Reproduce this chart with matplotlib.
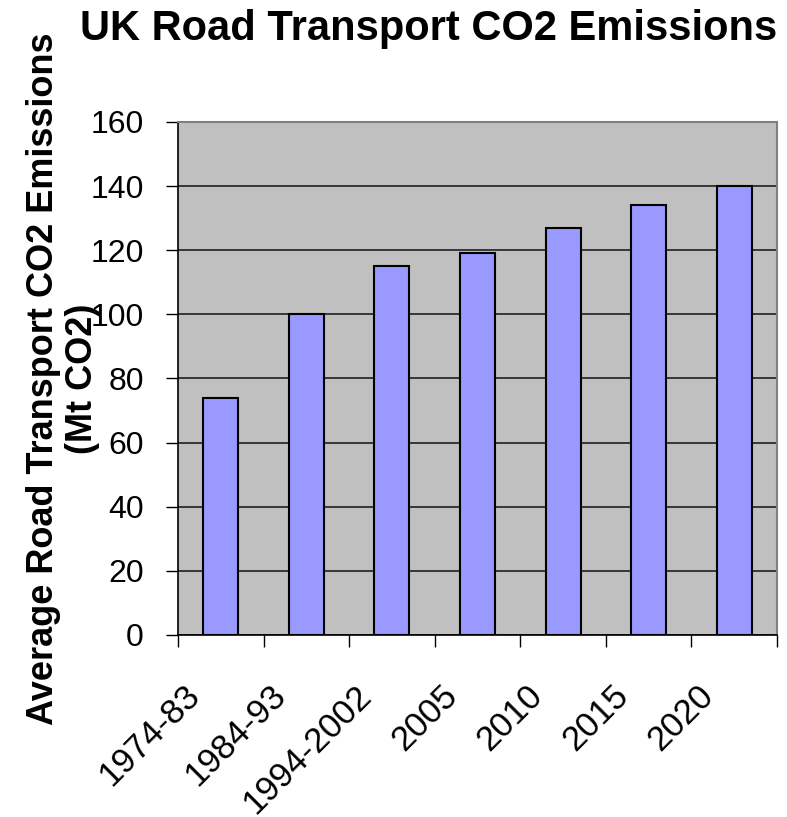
import numpy as np
import matplotlib
matplotlib.use('Agg')
import matplotlib.pyplot as plt

# data
categories = ['1974-83', '1984-93', '1994-2002', '2005', '2010', '2015', '2020']
emissions = [74, 100, 115, 119, 127, 134, 140]
yticks = [0, 20, 40, 60, 80, 100, 120, 140, 160]

plt.rcParams['font.family'] = ['Liberation Sans', 'DejaVu Sans']

fig = plt.figure(figsize=(7.87, 8.17), dpi=100)
ax = fig.add_axes([0.2262, 0.2228, 0.7611, 0.6279])
ax.set_facecolor('#C0C0C0')

x = np.arange(len(categories))
ax.bar(x, emissions, width=0.41, color='#9999FF', edgecolor='black', linewidth=1.5, zorder=3)

ax.set_xlim(-0.5, len(categories) - 0.5)
ax.set_ylim(0, 160)
ax.set_yticks(yticks)
ax.set_yticklabels([str(v) for v in yticks], fontsize=23)
ax.yaxis.grid(True, color='#202020', linewidth=1.2, zorder=1)

# category boundaries as ticks; labels sit a bit left of the centres (excel style)
ax.set_xticks(np.arange(len(categories) + 1) - 0.5)
ax.set_xticklabels([])
ax.set_xticks(x - 0.3, minor=True)
ax.set_xticklabels(categories, minor=True, fontsize=25, rotation=45,
                   ha='right', va='center', rotation_mode='anchor')
ax.tick_params(axis='x', which='minor', length=0, pad=40)
ax.tick_params(axis='x', which='major', length=8.6, width=1, direction='out')
ax.tick_params(axis='y', length=8.6, width=1, direction='out', pad=16)

for s in ['top', 'right']:
    ax.spines[s].set_color('#808080')
    ax.spines[s].set_linewidth(1.5)
for s in ['left', 'bottom']:
    ax.spines[s].set_color('black')
    ax.spines[s].set_linewidth(1.2)

ax.set_ylabel('Average Road Transport CO2 Emissions\n(Mt CO2)', fontsize=26,
              fontweight='bold', linespacing=1.15)
ax.yaxis.set_label_coords(-0.13, 0.5)

fig.text(0.544, 0.951, 'UK Road Transport CO2 Emissions', ha='center', va='baseline',
         fontsize=30, fontweight='bold')

fig.savefig('out.png', dpi=100)
